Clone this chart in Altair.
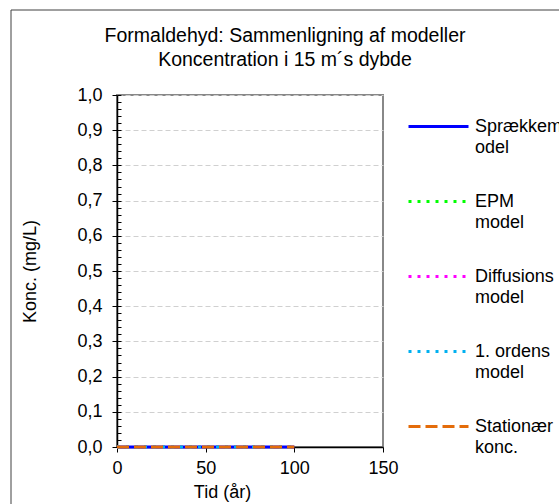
import json
import altair as alt
import pandas as pd

# ---- data ----
years = [0, 10, 20, 30, 40, 50, 60, 70, 80, 90, 100]
spraekkemodel = [0.0, 0.0, 0.0, 0.0, 0.0, 0.0, 0.0, 0.0, 0.0, 0.0, 0.0]
epm_model = [0.0, 0.0, 0.0, 0.0, 0.0, 0.0, 0.0, 0.0, 0.0, 0.0, 0.0]
diffusions_model = [0.0, 0.0, 0.0, 0.0, 0.0, 0.0, 0.0, 0.0, 0.0, 0.0, 0.0]
ordens_model = [0.0, 0.0, 0.0, 0.0, 0.0, 0.0, 0.0, 0.0, 0.0, 0.0, 0.0]
stationaer = [0.0, 0.0, 0.0, 0.0, 0.0, 0.0, 0.0, 0.0, 0.0, 0.0, 0.0]

series_names = ["Sprækkemodel", "EPM model", "Diffusions model", "1. ordens model", "Stationær konc."]
series_values = [spraekkemodel, epm_model, diffusions_model, ordens_model, stationaer]
legend_lines = [["Sprækkem", "odel"], ["EPM", "model"], ["Diffusions", "model"],
                ["1. ordens", "model"], ["Stationær", "konc."]]
colors = ["#0000FF", "#00FF00", "#FF00FF", "#00B0F0", "#E46C0A"]
dashes = [[1, 0], [3, 6], [3, 6], [3, 6], [12, 5]]

x_ticks = [0, 50, 100, 150]
y_ticks = [0.0, 0.1, 0.2, 0.3, 0.4, 0.5, 0.6, 0.7, 0.8, 0.9, 1.0]
y_minor = [0.0, 0.02, 0.04, 0.06, 0.08, 0.1, 0.12, 0.14, 0.16, 0.18, 0.2, 0.22, 0.24,
           0.26, 0.28, 0.3, 0.32, 0.34, 0.36, 0.38, 0.4, 0.42, 0.44, 0.46, 0.48, 0.5,
           0.52, 0.54, 0.56, 0.58, 0.6, 0.62, 0.64, 0.66, 0.68, 0.7, 0.72, 0.74, 0.76,
           0.78, 0.8, 0.82, 0.84, 0.86, 0.88, 0.9, 0.92, 0.94, 0.96, 0.98, 1.0]

title_lines = ["Formaldehyd: Sammenligning af modeller", "Koncentration i 15 m´s dybde"]

rows = []
for name, vals in zip(series_names, series_values):
    for yr, v in zip(years, vals):
        rows.append({"year": yr, "value": v, "series": name})
df = pd.DataFrame(rows)

FONT = "Liberation Sans"
FS = 18
W, H = 266, 352
LEFT, TOP = 117, 95

label_map = json.dumps(dict(zip(series_names, legend_lines)), ensure_ascii=False)
legend = alt.Legend(
    title=None, orient="none", legendX=290, legendY=0,
    symbolType="stroke", symbolSize=3600, symbolStrokeWidth=3,
    labelFontSize=FS, labelFont=FONT, labelColor="#000000",
    labelOffset=5, labelLimit=300, rowPadding=13,
    labelExpr=label_map + "[datum.label]",
)

yscale = alt.Scale(domain=[0, 1], nice=False, zero=False)
xscale = alt.Scale(domain=[0, 150], nice=False, zero=False)

lines = alt.Chart(df).mark_line(strokeWidth=3, clip=False).encode(
    x=alt.X("year:Q", scale=xscale, axis=alt.Axis(
        values=x_ticks, title="Tid (år)", grid=False, tickSize=5, tickColor="#000000",
        tickWidth=1, domainColor="#000000", domainWidth=1.5, labelFontSize=FS, labelFont=FONT,
        labelColor="#000000", labelPadding=7, labelFlush=False, titleFontSize=FS, titleFont=FONT,
        titleFontWeight="normal", titleColor="#000000", titleX=105, titleY=45,
        titleBaseline="middle", titleAlign="center")),
    y=alt.Y("value:Q", scale=yscale, axis=alt.Axis(
        values=y_ticks, labelExpr="replace(format(datum.value, '.1f'), '.', ',')",
        title="Konc. (mg/L)", grid=True, gridColor="#D0D0D0", gridDash=[5, 3], gridWidth=1,
        tickSize=5, tickColor="#000000", domainColor="#000000", domainWidth=1.5,
        labelFontSize=FS, labelFont=FONT, labelColor="#000000", labelPadding=10,
        labelFlush=False,
        titleFontSize=FS, titleFont=FONT, titleFontWeight="normal", titleColor="#000000",
        titleAngle=270, titleX=-87, titleY=H / 2, titleAlign="center", titleBaseline="middle")),
    color=alt.Color("series:N", scale=alt.Scale(domain=series_names, range=colors), legend=legend),
    strokeDash=alt.StrokeDash("series:N", scale=alt.Scale(domain=series_names, range=dashes), legend=legend),
)

minor = alt.Chart(df).mark_point(opacity=0).encode(
    y=alt.Y("value:Q", scale=yscale, axis=alt.Axis(
        orient="right", offset=-W, values=y_minor, labels=False, domain=False, grid=False,
        tickSize=4, tickColor="#000000", tickWidth=1, title=None)),
)

frame = alt.Chart(alt.Data(values=[{"a": 1}])).mark_rule(color="#404040", strokeWidth=1).encode(
    x=alt.value(-LEFT + 11), y=alt.value(-TOP + 10), y2=alt.value(504 - TOP + 5))
frame2 = alt.Chart(alt.Data(values=[{"a": 1}])).mark_rule(color="#404040", strokeWidth=1).encode(
    x=alt.value(-LEFT + 11), x2=alt.value(559 - LEFT + 5), y=alt.value(-TOP + 10))

chart = alt.layer(lines, minor, frame, frame2).resolve_axis(y="independent").properties(
    width=W, height=H,
    title=alt.TitleParams(text=title_lines, fontSize=19.5, font=FONT, fontWeight="normal",
                          color="#000000", anchor="middle", dx=35, offset=-61, lineHeight=24),
    autosize=alt.AutoSizeParams(type="none"),
    padding={"left": LEFT, "top": TOP, "right": 559 - LEFT - W, "bottom": 504 - TOP - H},
).configure(
    font=FONT,
    view=alt.ViewConfig(stroke="#888888", strokeWidth=2),
    style={"guide-label": {"lineHeight": 21.5}},
)

chart.save("out.html", embed_options={"renderer": "svg", "actions": False})
